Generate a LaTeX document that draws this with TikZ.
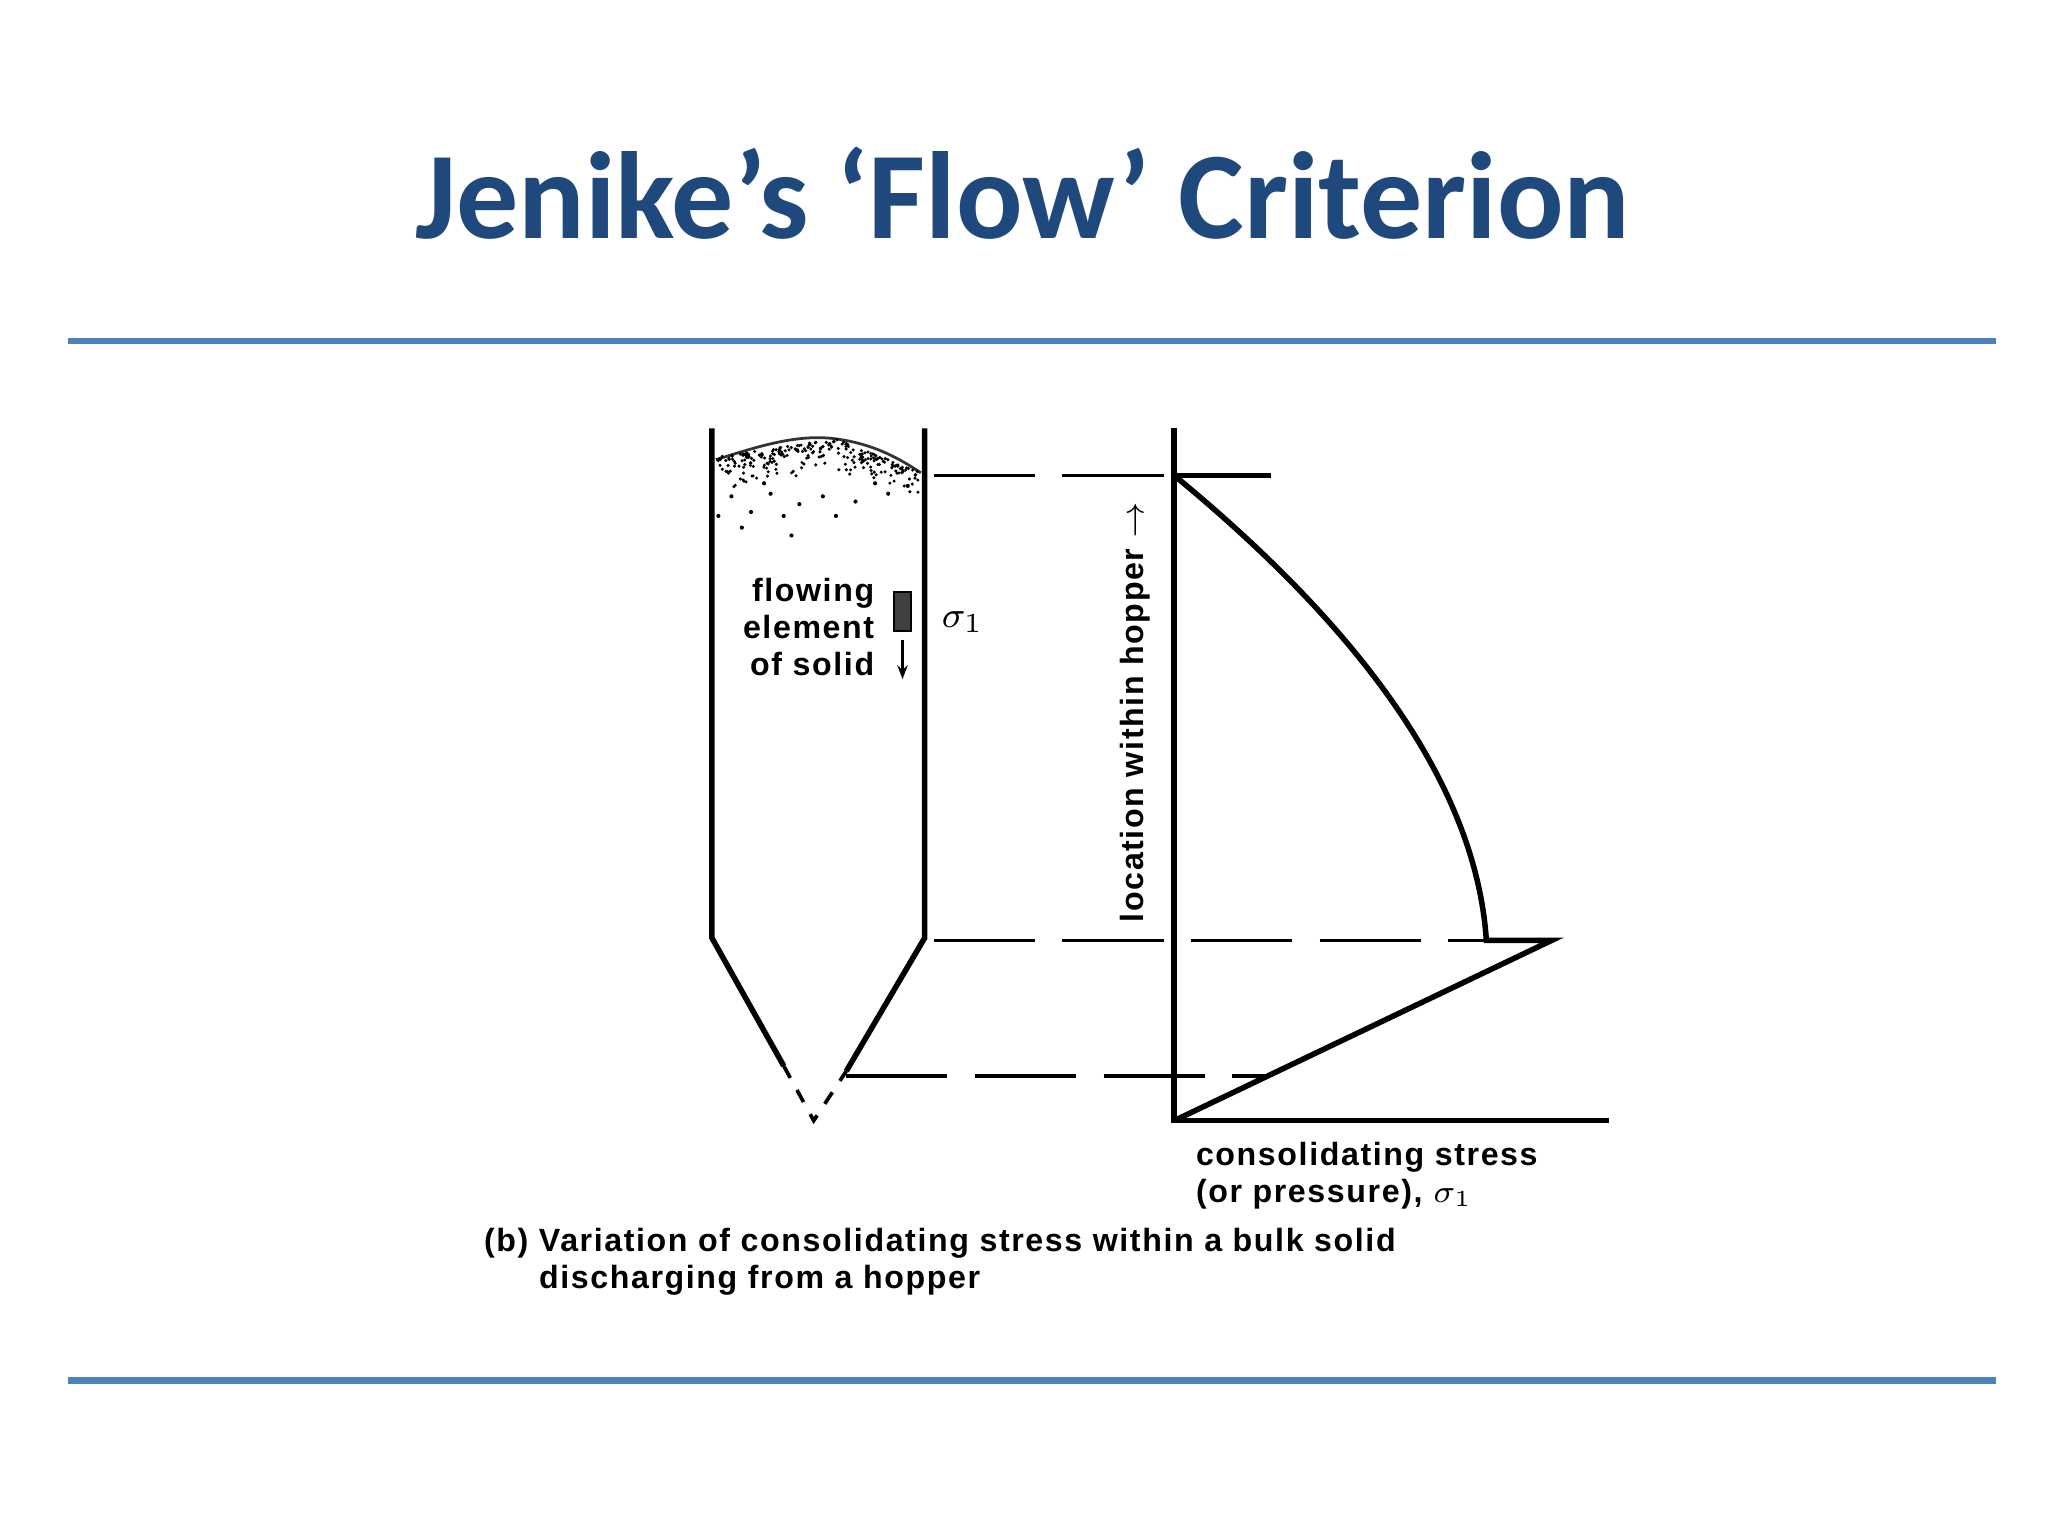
\documentclass[tikz,border=0pt]{standalone}
\usepackage{fontspec}
\setmainfont{Liberation Sans}[LetterSpace=5]
\newfontfamily\titlefont{Carlito}
\usetikzlibrary{arrows.meta}
\definecolor{titleblue}{RGB}{31,73,125}
\definecolor{ruleblue}{RGB}{79,129,189}
\tikzset{wall/.style={line width=1.2pt,black},
 dash line/.style={line width=0.8pt,dash pattern=on 22pt off 6pt},
 lbl/.style={font=\fontsize{7}{8}\selectfont\bfseries,inner sep=0pt}}
\begin{document}
\begin{tikzpicture}[x=0.01cm,y=-0.01cm]
\useasboundingbox (0,0) rectangle (1568,1176);
\node[font=\titlefont\bfseries\fontsize{27}{30}\selectfont,text=titleblue] (title) at (783,148) {Jenike’s ‘Flow’ Criterion};
\draw[ruleblue,line width=1.4pt] (52,261) -- (1528,261);
\draw[ruleblue,line width=1.4pt] (52,1057) -- (1528,1057);
% hopper
\draw[wall] (545,328) -- (545,718) -- (600,816);
\draw[wall] (708,328) -- (708,718) -- (648,820);
\draw[line width=0.8pt,dashed] (600,816) -- (623,858) -- (648,820);
% powder
\draw[line width=0.6pt,black!80] (548,352) .. controls (580,342) and (610,332) .. (640,336) .. controls (670,340) and (690,352) .. (705,362);
\pgfmathsetseed{7}
\foreach \i in {1,...,260}{
  \pgfmathsetmacro{\xx}{550+153*rnd}
  \pgfmathsetmacro{\top}{(\xx<640 ? 350-(\xx-548)*0.15 : 336+(\xx-640)*0.4)}
  \pgfmathsetmacro{\yy}{\top+ 28*rnd*rnd}
  \fill (\xx,\yy) circle (1.3);
}
\foreach \p in {(560,380),(575,392),(590,378),(612,386),(630,380),(655,384),(680,378),(568,404),(600,395),(640,395),(606,410),(585,370),(670,370),(695,372),(550,395)}
  \fill \p circle (1.6);
% element
\node[draw,fill=black!75,minimum width=0.13cm,minimum height=0.3cm,inner sep=0pt] (elem) at (691,468) {};
\coordinate (arrend) at (691,520);
\draw[-{Stealth[length=3pt]},line width=0.6pt] (691,490) -- (arrend);
\node[lbl,align=right,anchor=north east] (flow) at (670,442) {flowing\\element\\of solid};
\node[lbl,font=\fontsize{8}{9}\selectfont] (s1) at (737,476) {$\sigma_1$};
% axes
\coordinate (ot) at (899,328); \coordinate (ob) at (899,858);
\coordinate (xe) at (1232,858); \coordinate (tt) at (973,364);
\coordinate (c0) at (899,364); \coordinate (c1) at (1138,720); \coordinate (c2) at (1188,720);
\draw[wall] (ot) -- (ob) -- (xe);
\draw[wall] (c0) -- (tt);
\draw[wall] (c0) .. controls (1040,480) and (1130,600) .. (c1) -- (c2) -- (ob);
% dashed
\draw[dash line] (715,364) -- (c0);
\draw[dash line] (715,720) -- (c1);
\draw[dash line] (648,824) -- (970,824);
% labels
\node[lbl,rotate=90] (loc) at (869,545) {location within hopper $\rightarrow$};
\node[lbl,anchor=west,align=left] (cs) at (915,900) {consolidating stress\\(or pressure), $\sigma_1$};
\node[lbl,anchor=north west,align=left] (cap) at (370,940) {(b) Variation of consolidating stress within a bulk solid\\\hspace*{0.42cm}discharging from a hopper};
\end{tikzpicture}
\end{document}
